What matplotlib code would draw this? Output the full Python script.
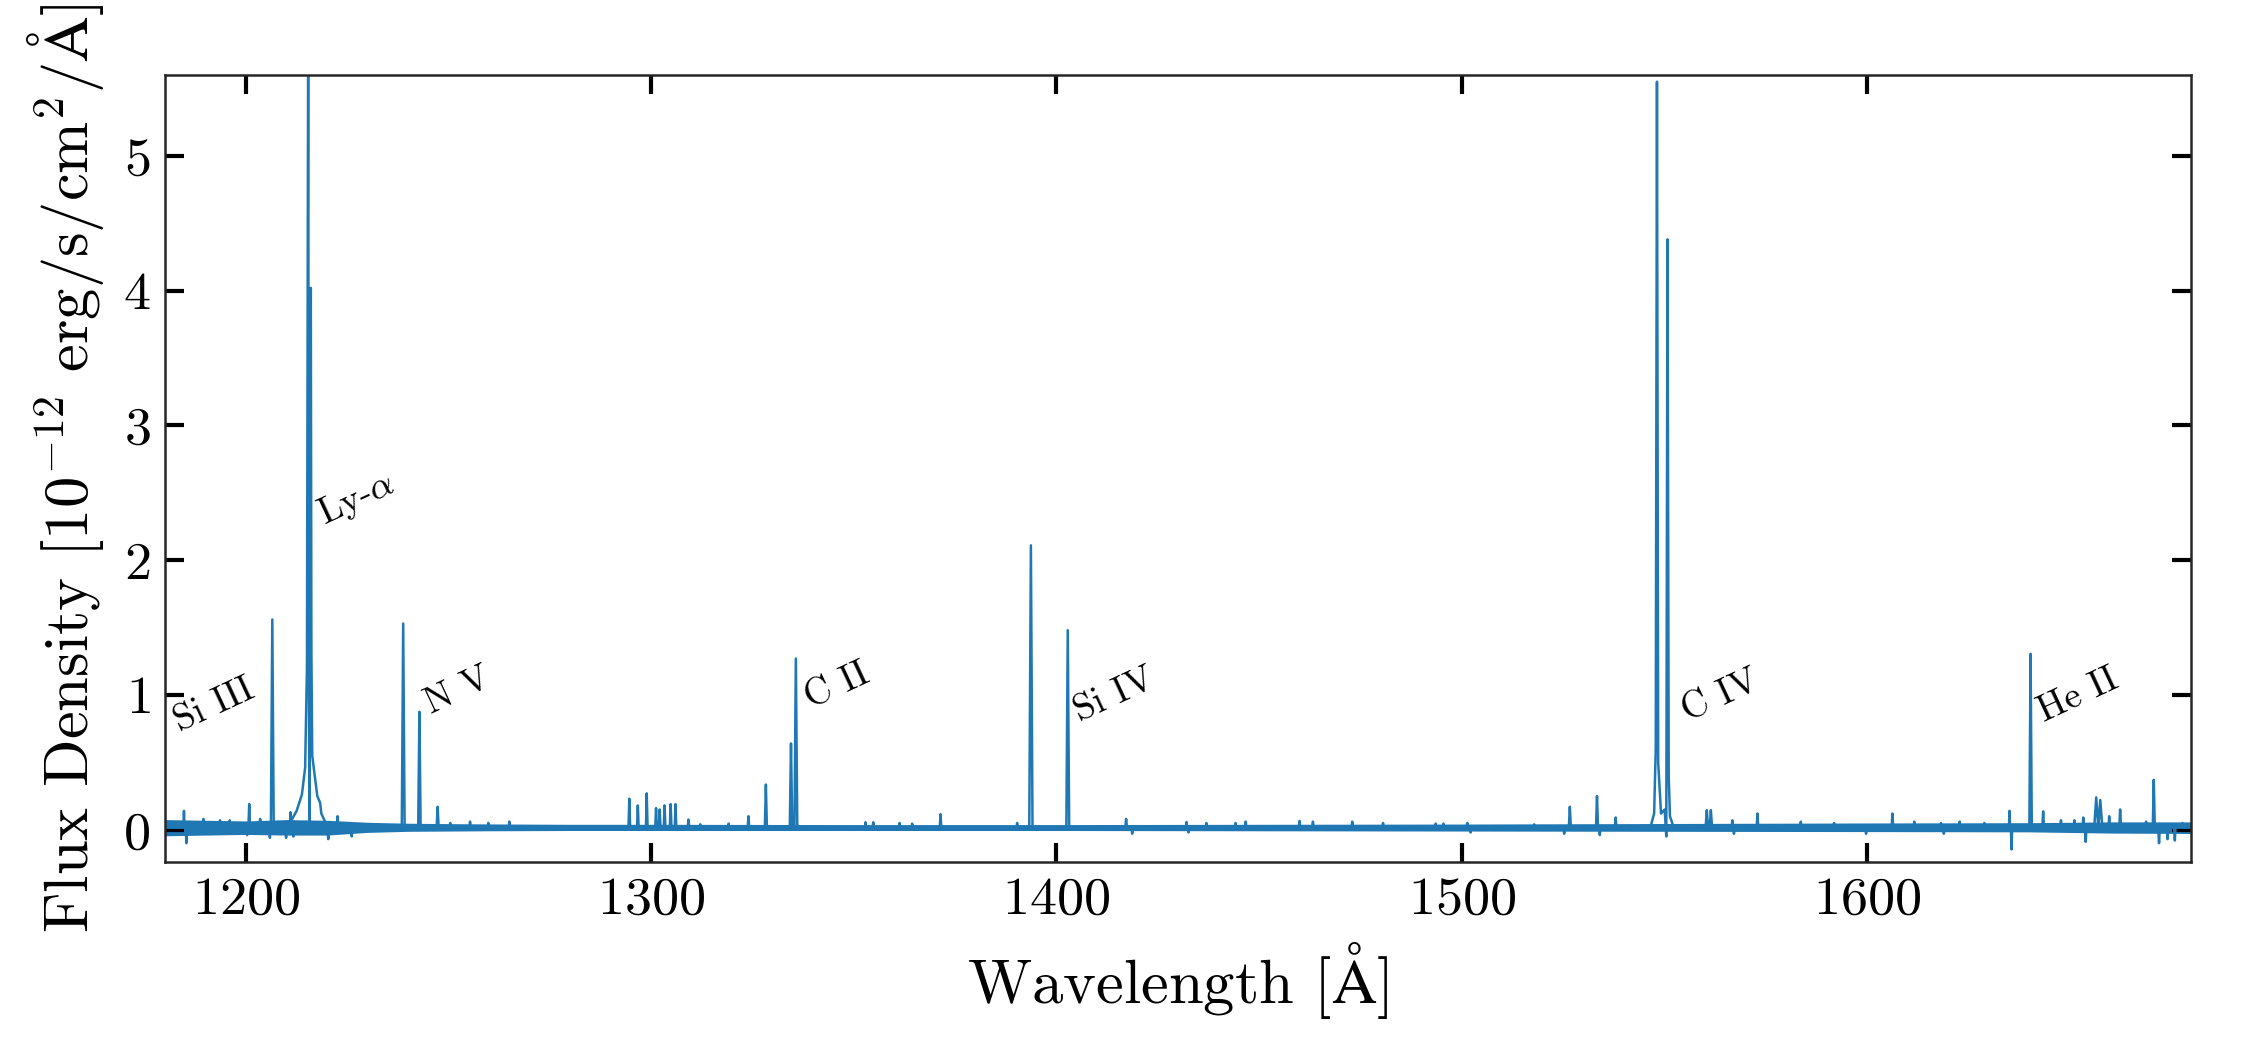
import numpy as np
import matplotlib
matplotlib.use("Agg")
import matplotlib.pyplot as plt
from matplotlib.ticker import MultipleLocator

plt.rcParams['font.family'] = ['cmr10', 'DejaVu Serif']
plt.rcParams['mathtext.fontset'] = 'cm'
plt.rcParams['axes.formatter.use_mathtext'] = True
plt.rcParams['axes.unicode_minus'] = False

# continuum level and noise envelope
continuum = 0.015
band_wave = [1180, 1190, 1200, 1210, 1220, 1230, 1240, 1250, 1260, 1280, 1300,
             1350, 1400, 1450, 1500, 1550, 1600, 1640, 1660, 1680]
band_hi = [0.075, 0.07, 0.065, 0.075, 0.07, 0.055, 0.048, 0.045, 0.043, 0.04, 0.04,
           0.038, 0.038, 0.04, 0.042, 0.046, 0.05, 0.052, 0.058, 0.058]
band_lo = [-0.045, -0.04, -0.035, -0.04, -0.04, -0.02, -0.012, -0.01, -0.008, -0.006, -0.006,
           -0.006, -0.006, -0.008, -0.01, -0.012, -0.014, -0.016, -0.025, -0.028]

# narrow emission / absorption features: centre [A], peak flux, half width [A]
line_wave = [1184.7, 1185.3, 1189.5, 1193.6, 1196.0, 1200.3, 1200.8, 1203.5, 1205.9,
             1206.5, 1209.9, 1211.0, 1211.7, 1220.3, 1222.6, 1226.1, 1231.4,
             1238.8, 1242.8, 1247.3, 1250.4, 1255.3, 1259.8, 1265.0,
             1294.6, 1296.7, 1298.9, 1301.2, 1302.1, 1303.3, 1304.8, 1306.0, 1309.2,
             1312.1, 1319.1, 1324.0, 1328.3, 1334.5, 1335.7, 1352.9, 1354.8, 1361.3,
             1364.4, 1371.4, 1390.3, 1393.7, 1402.8, 1417.2, 1418.7, 1432.1, 1432.6,
             1437.0, 1444.2, 1446.7, 1460.0, 1463.3, 1473.0, 1480.6, 1493.6, 1495.5,
             1501.4, 1502.2, 1517.9, 1525.3, 1526.7, 1533.4, 1534.1, 1538.0,
             1560.5, 1561.5, 1566.8, 1567.2, 1573.0, 1583.7, 1591.9, 1599.8,
             1606.3, 1611.7, 1618.3, 1619.0, 1622.9, 1629.0, 1635.2, 1635.7,
             1640.4, 1643.5, 1647.9, 1651.2, 1653.4, 1654.0, 1656.6, 1657.6,
             1659.8, 1662.5, 1668.9, 1670.8, 1672.1, 1674.2, 1676.0, 1677.9]
line_peak = [0.14, -0.10, 0.08, 0.07, 0.07, -0.04, 0.19, 0.08, -0.06,
             1.56, -0.06, 0.13, -0.05, -0.07, 0.10, -0.05, 0.04,
             1.53, 0.875, 0.17, 0.05, 0.06, 0.05, 0.06,
             0.23, 0.18, 0.27, 0.16, 0.15, 0.18, 0.19, 0.19, 0.075,
             0.04, 0.045, 0.10, 0.335, 0.64, 1.27, 0.055, 0.055, 0.05,
             0.045, 0.115, 0.05, 2.11, 1.48, 0.08, -0.03, 0.057, -0.02,
             0.05, 0.05, 0.06, 0.065, 0.06, 0.06, 0.05, 0.045, 0.045,
             0.05, -0.02, 0.04, -0.03, 0.17, 0.25, -0.04, 0.09,
             0.145, 0.145, 0.07, -0.03, 0.12, 0.06, 0.05, -0.03,
             0.12, 0.06, 0.05, -0.03, 0.06, 0.05, 0.14, -0.146,
             1.305, 0.136, 0.07, 0.07, 0.09, -0.09, 0.24, 0.22,
             0.10, 0.15, 0.06, 0.37, -0.10, -0.07, -0.08, 0.05]
line_hw = [0.15, 0.15, 0.15, 0.15, 0.15, 0.15, 0.2, 0.15, 0.15,
           0.35, 0.15, 0.2, 0.15, 0.2, 0.2, 0.2, 0.15,
           0.35, 0.3, 0.25, 0.15, 0.15, 0.15, 0.15,
           0.2, 0.2, 0.2, 0.2, 0.2, 0.2, 0.2, 0.2, 0.2,
           0.15, 0.15, 0.2, 0.25, 0.3, 0.35, 0.15, 0.15, 0.15,
           0.15, 0.2, 0.15, 0.4, 0.35, 0.2, 0.15, 0.15, 0.15,
           0.15, 0.15, 0.2, 0.2, 0.2, 0.2, 0.15, 0.15, 0.15,
           0.2, 0.15, 0.15, 0.15, 0.25, 0.25, 0.15, 0.2,
           0.3, 0.3, 0.15, 0.15, 0.2, 0.15, 0.15, 0.15,
           0.2, 0.15, 0.15, 0.15, 0.15, 0.15, 0.15, 0.15,
           0.3, 0.2, 0.15, 0.15, 0.15, 0.2, 0.5, 0.5,
           0.15, 0.2, 0.15, 0.25, 0.2, 0.15, 0.15, 0.15]

# Ly-alpha and C IV profiles (broad wings + cores)
lya_wave = [1210.5, 1212.5, 1213.8, 1214.6, 1215.05, 1215.35, 1215.5, 1215.65,
            1215.8, 1216.0, 1216.15, 1216.35, 1216.9, 1217.6, 1218.3, 1218.6, 1219.8]
lya_flux = [0.03, 0.14, 0.26, 0.46, 1.2, 5.9, 1.6, -0.03,
            1.5, 4.02, 1.3, 0.55, 0.42, 0.25, 0.2, 0.12, 0.04]
civ_wave = [1546.6, 1547.5, 1547.9, 1548.2, 1548.5, 1549.2, 1550.1, 1550.5,
            1550.8, 1551.1, 1551.4, 1552.3]
civ_flux = [0.02, 0.12, 0.6, 5.55, 0.5, 0.12, 0.15, -0.05,
            4.38, 0.4, 0.1, 0.02]

labels = ['Si III', r'Ly-$\alpha$', 'N V', 'C II', 'Si IV', 'C IV', 'He II']
label_x = [1181.0, 1216.5, 1243.0, 1336.6, 1403.2, 1553.0, 1641.0]
label_y = [0.68, 2.2, 0.81, 0.85, 0.755, 0.75, 0.75]

# assemble the spectrum polyline from the features
segments = []
for w, p, h in zip(line_wave, line_peak, line_hw):
    segments.append(([w - h, w, w + h], [continuum, p, continuum]))
segments.append((lya_wave, lya_flux))
segments.append((civ_wave, civ_flux))
segments.sort(key=lambda s: s[0][0])

wave = [1180.0]
flux = [continuum]
for sx, sy in segments:
    wave.extend(sx)
    flux.extend(sy)
wave.append(1680.0)
flux.append(continuum)

color = '#1f77b4'
fig, ax = plt.subplots(figsize=(7.5, 3.5), dpi=300)
fig.subplots_adjust(left=0.0733, right=0.9738, bottom=0.179, top=0.9286)

ax.fill_between(band_wave, band_lo, band_hi, color=color, lw=0)
ax.plot(wave, flux, color=color, lw=0.6)

for t, x, y in zip(labels, label_x, label_y):
    ax.text(x, y, t, rotation=25, ha='left', va='bottom', fontsize=9)

ax.set_xlim(1180, 1680)
ax.set_ylim(-0.24, 5.6)
ax.xaxis.set_major_locator(MultipleLocator(100))
ax.yaxis.set_major_locator(MultipleLocator(1))
ax.tick_params(direction='in', top=True, right=True, length=4.5, width=1,
               labelsize=13)
for s in ax.spines.values():
    s.set_linewidth(0.6)
    s.set_color('#262626')

ax.set_xlabel(r'Wavelength [$\mathrm{\AA}$]', fontsize=15)
ax.set_ylabel(r'Flux Density [$10^{-12}$ erg/s/cm$^2$/$\mathrm{\AA}$]', fontsize=15)

plt.savefig('out.png', dpi=300)
